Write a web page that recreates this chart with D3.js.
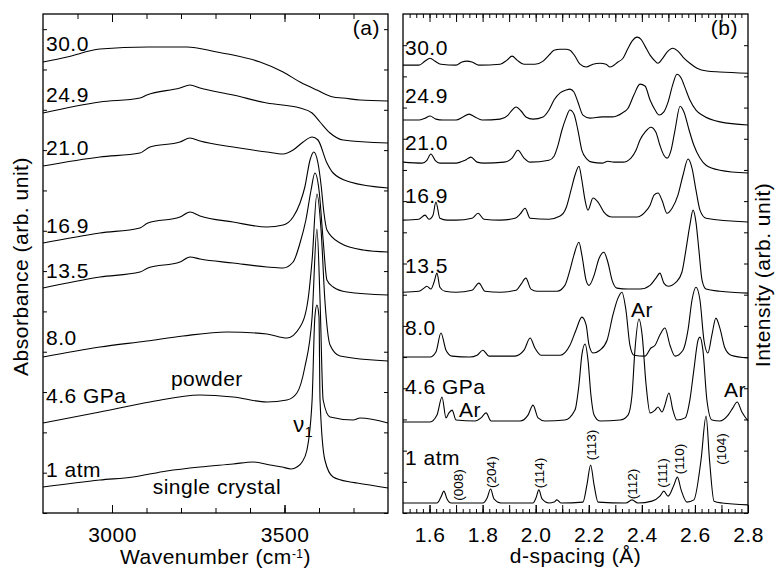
<!DOCTYPE html>
<html>
<head>
<meta charset="utf-8">
<script src="https://cdn.jsdelivr.net/npm/d3@7"></script>
<style>
  body { margin: 0; background: #fff; }
  svg { display: block; font-family: "Liberation Sans", Arial, Helvetica, sans-serif; }
</style>
</head>
<body>
<svg id="chart" width="776" height="577"></svg>
<script>
// ---- data ----
var pressureLabels = ['30.0', '24.9', '21.0', '16.9', '13.5', '8.0', '4.6 GPa', '1 atm'];

// (a) IR absorbance: [wavenumber cm-1, absorbance above the trace start]
var irOffsets = [112.75, 100, 86.75, 67.5, 56.25, 39, 22.5, 6.5];
var ir300 = [[2800,0],[2870,1.25],[2965,3.25],[3104,3.75],[3217,3.75],[3304,2.5],[3351,1.75],[3429,0],[3496,-2.5],[3545,-5],[3594,-7],[3641,-8.75],[3670,-9],[3719,-9.5],[3800,-9.75]];
var ir249 = [[2800,0],[2965,2.75],[3081,3.75],[3101,4.5],[3197,6.25],[3226,7],[3255,6.25],[3351,4.5],[3449,2.5],[3545,1.25],[3580,0],[3603,-2.25],[3632,-5],[3670,-6.75],[3800,-7.5]];
var ir210 = [[2800,0],[2965,2.25],[3081,3.25],[3110,4.75],[3197,6],[3226,7],[3255,6.25],[3351,4.75],[3449,3.5],[3496,3],[3525,4],[3554,6],[3580,7.25],[3597,6.5],[3623,0.75],[3641,-1.75],[3690,-4],[3800,-5.5]];
var ir169 = [[2800,0],[2965,2.5],[3081,3.75],[3104,5],[3197,6.5],[3226,7.75],[3255,6.75],[3351,5.25],[3449,4],[3496,4.5],[3525,6.5],[3545,10],[3559,14],[3574,20.75],[3585,22.75],[3597,20],[3606,14.5],[3614,7.75],[3623,3.25],[3661,0],[3728,-1.75],[3800,-2.25]];
var ir135 = [[2800,0],[2965,2.75],[3081,4],[3104,5],[3197,6.5],[3226,7.75],[3255,7.25],[3351,6.25],[3449,5.25],[3496,5],[3525,6.5],[3545,11.25],[3562,17],[3577,24.5],[3588,28.75],[3600,24.5],[3612,12],[3623,2],[3641,0.25],[3681,-1],[3800,-1.75]];
var ir80 = [[2800,0],[2965,2.5],[3101,4],[3206,5.25],[3333,6.25],[3449,5.75],[3507,4.75],[3545,7.5],[3568,14.25],[3580,24.25],[3594,40.75],[3606,31.75],[3617,14.25],[3632,3],[3661,0.25],[3800,-1]];
var ir46 = [[2800,0],[2965,2.75],[3110,5.25],[3255,7],[3351,6.5],[3449,5.25],[3507,5.75],[3536,7.5],[3559,14],[3580,26.5],[3594,48.5],[3603,30.75],[3612,5.75],[3632,1.5],[3699,0.75],[3719,1.25],[3800,0]];
var ir1atm = [[2800,0],[2965,1.75],[3061,2.5],[3159,4],[3255,5],[3351,5.75],[3409,6.25],[3458,5.5],[3493,5],[3519,4.5],[3536,5],[3551,6.25],[3565,9.25],[3580,21.75],[3588,42.5],[3594,45.5],[3600,42.5],[3603,21.75],[3617,6.75],[3641,2.5],[3690,1.25],[3710,1],[3800,-0.25]];
var irSpectra = [ir300, ir249, ir210, ir169, ir135, ir80, ir46, ir1atm];

// (b) X-ray diffraction: [d-spacing A, intensity above the trace start]
var xrdOffsets = [143.6, 126, 112.5, 93.9, 70.8, 50, 29.2, 3.2];
var xrd300 = [[1.500,0],[1.560,0],[1.583,1.3],[1.602,2.2],[1.620,1.3],[1.643,0.3],[1.700,0],[1.722,1],[1.741,1.3],[1.760,1],[1.786,0],[1.866,0.3],[1.892,1.6],[1.911,2.9],[1.930,1.6],[1.956,0.3],[1.997,0.3],[2.028,1.3],[2.050,3.2],[2.069,4.8],[2.092,5.1],[2.114,5.1],[2.129,4.8],[2.148,2.9],[2.167,0.3],[2.190,-0.6],[2.216,0.3],[2.242,0.6],[2.265,0.3],[2.280,-0.6],[2.310,1],[2.329,2.2],[2.348,5.4],[2.363,7.7],[2.382,9],[2.397,8.3],[2.412,6.1],[2.431,3.2],[2.450,1.3],[2.461,0.6],[2.476,1.9],[2.495,4.2],[2.517,5.4],[2.536,4.5],[2.555,2.6],[2.581,0.6],[2.608,-1],[2.645,-1.9],[2.694,-2.2],[2.800,-2.6]];
var xrd249 = [[1.500,0],[1.560,0],[1.583,0.6],[1.602,1.3],[1.624,0.3],[1.651,0],[1.700,0],[1.726,1],[1.749,1.9],[1.771,1],[1.798,0],[1.866,0.3],[1.896,1.6],[1.911,3.2],[1.926,4.2],[1.945,2.9],[1.963,1],[1.990,0.3],[2.028,1],[2.050,3.2],[2.069,6.4],[2.092,8.7],[2.114,9.6],[2.129,9.9],[2.144,9],[2.159,5.8],[2.178,1.6],[2.205,0.6],[2.250,1],[2.288,1],[2.325,2.2],[2.348,3.8],[2.370,8],[2.393,11.5],[2.412,10.9],[2.431,6.4],[2.450,3.2],[2.465,1.6],[2.483,2.6],[2.499,5.8],[2.517,11.5],[2.532,14.7],[2.548,13.5],[2.563,10.3],[2.581,6.4],[2.604,3.2],[2.627,1.6],[2.694,-0.6],[2.800,-1.6]];
var xrd210 = [[1.500,0],[1.572,-0.3],[1.590,0.6],[1.605,2.6],[1.621,0.6],[1.639,-0.3],[1.700,-0.3],[1.734,0.6],[1.756,1.6],[1.779,0],[1.805,-0.3],[1.881,0],[1.911,1.3],[1.933,3.8],[1.956,1.3],[1.979,0],[2.050,0.6],[2.069,1.9],[2.084,5.4],[2.099,10.3],[2.114,14.1],[2.129,16.7],[2.144,15.4],[2.159,10.3],[2.174,3.8],[2.193,1],[2.212,0],[2.250,-0.3],[2.272,0.3],[2.295,0],[2.329,0],[2.359,1.3],[2.378,3.8],[2.393,7.1],[2.412,9.6],[2.434,11.2],[2.453,9.6],[2.468,5.4],[2.483,2.2],[2.495,1.3],[2.510,3.8],[2.525,10.3],[2.544,17.9],[2.559,16],[2.578,10.3],[2.596,5.4],[2.619,1.3],[2.642,-1],[2.694,-2.6],[2.800,-3.5]];
var xrd169 = [[1.500,0],[1.560,0.3],[1.583,1.6],[1.598,0.3],[1.613,1.6],[1.624,5.8],[1.639,0.6],[1.666,0],[1.700,0],[1.760,0.6],[1.783,2.2],[1.805,0.3],[1.866,0],[1.922,0.6],[1.941,1.9],[1.960,3.8],[1.979,0.6],[2.050,0.3],[2.092,1.3],[2.114,3.8],[2.133,9.6],[2.148,14.4],[2.163,17.3],[2.174,12.8],[2.186,6.4],[2.197,3.2],[2.216,7.1],[2.235,5.8],[2.257,2.6],[2.288,1],[2.382,1],[2.412,2.6],[2.431,4.8],[2.446,8],[2.461,8.7],[2.476,6.4],[2.495,2.2],[2.514,3.8],[2.536,8],[2.555,14.4],[2.574,19.6],[2.589,16.7],[2.604,9.6],[2.619,3.2],[2.642,0.6],[2.800,-0.6]];
var xrd135 = [[1.500,0],[1.560,0.3],[1.579,1.3],[1.590,1.9],[1.605,1],[1.617,3.2],[1.628,6.1],[1.639,1.6],[1.658,0.3],[1.700,0],[1.760,0.6],[1.786,2.9],[1.809,0.3],[1.866,0],[1.926,0.6],[1.945,2.6],[1.963,4.5],[1.982,1],[2.005,0.3],[2.080,0.3],[2.110,2.2],[2.129,7.1],[2.144,11.9],[2.163,16],[2.174,11.9],[2.190,3.8],[2.201,2.2],[2.220,5.4],[2.239,10.9],[2.257,12.8],[2.272,9.6],[2.288,3.8],[2.306,1.3],[2.348,1],[2.393,1],[2.431,2.2],[2.453,4.5],[2.468,6.1],[2.483,2.9],[2.499,1.9],[2.529,3.2],[2.551,6.4],[2.566,13.5],[2.581,21.5],[2.593,26.3],[2.604,22.4],[2.615,13.5],[2.627,3.8],[2.642,1],[2.694,0.3],[2.800,-0.3]];
var xrd80 = [[1.500,0],[1.602,0],[1.624,1.6],[1.643,7.7],[1.662,2.2],[1.685,0.3],[1.752,0],[1.779,0.6],[1.801,2.2],[1.824,0.3],[1.922,0.3],[1.956,2.2],[1.979,6.1],[1.997,2.9],[2.020,0.6],[2.092,0.6],[2.129,3.8],[2.152,8.7],[2.174,12.8],[2.190,10.3],[2.201,3.8],[2.216,1.3],[2.242,2.2],[2.269,5.4],[2.291,13.5],[2.310,18.9],[2.325,20.8],[2.340,15.1],[2.355,3.8],[2.370,0.6],[2.412,0.3],[2.434,2.9],[2.450,3.8],[2.468,7.1],[2.487,9.3],[2.506,3.8],[2.525,0.3],[2.555,2.2],[2.574,8.7],[2.589,18.3],[2.604,22.4],[2.619,18.3],[2.634,5.4],[2.649,1.3],[2.664,7.1],[2.679,12.5],[2.694,9.3],[2.713,2.9],[2.736,0.6],[2.800,-0.3]];
var xrd46 = [[1.500,0],[1.602,0],[1.628,2.2],[1.647,8],[1.662,1.3],[1.673,2.9],[1.685,3.8],[1.700,0.6],[1.771,0.3],[1.794,1.3],[1.813,2.9],[1.832,0.3],[1.941,0.3],[1.971,2.2],[1.990,5.4],[2.009,1.3],[2.035,0.3],[2.110,0.6],[2.148,3.8],[2.163,11.9],[2.174,21.5],[2.186,25],[2.197,19.9],[2.208,8.7],[2.220,2.2],[2.242,0.3],[2.318,0.6],[2.348,2.2],[2.363,8.7],[2.374,23.1],[2.389,33],[2.401,27.9],[2.416,11.9],[2.431,2.9],[2.450,3.8],[2.461,4.8],[2.476,3.2],[2.487,5.4],[2.502,9.3],[2.517,3.8],[2.532,0.6],[2.563,1.3],[2.581,7.1],[2.596,16.7],[2.612,26.3],[2.619,27.2],[2.630,23.1],[2.645,7.1],[2.664,0.6],[2.694,0.3],[2.725,2.2],[2.743,4.5],[2.759,6.4],[2.777,3.2],[2.800,0.3]];
var xrd1atm = [[1.500,0],[1.628,0],[1.643,1.9],[1.654,3.8],[1.666,1.3],[1.681,0],[1.801,0],[1.817,1.6],[1.830,4.5],[1.843,1.3],[1.869,0],[1.990,0],[2.001,1.6],[2.012,4.2],[2.024,1.3],[2.050,0],[2.069,0.3],[2.080,1],[2.095,0],[2.178,0.3],[2.193,5.8],[2.207,12.2],[2.220,5.8],[2.235,0.3],[2.340,0],[2.363,1],[2.385,0],[2.438,0.6],[2.468,2.2],[2.483,3.8],[2.499,2.2],[2.521,5.8],[2.534,8.3],[2.548,4.2],[2.570,0.3],[2.596,1],[2.623,13.8],[2.642,27.9],[2.655,13.8],[2.672,0.6],[2.702,0],[2.800,-0.6]];
var xrdSpectra = [xrd300, xrd249, xrd210, xrd169, xrd135, xrd80, xrd46, xrd1atm];

// reflections of the 1 atm pattern and argon lines
var hklLabels = ['(008)', '(204)', '(114)', '(113)', '(112)', '(111)', '(110)', '(104)'];
var hklD = [1.707, 1.832, 2.012, 2.208, 2.363, 2.476, 2.540, 2.698];
var hklY = [9, 13.1, 12.8, 21.8, 9.3, 12.8, 17.3, 20.5];
var argonD = [2.401, 1.752, 2.751];
var argonY = [62.8, 30.8, 37.2];

// ---- layout ----
var svg = d3.select('#chart');
var plotTop = 14, plotBottom = 513;
var fontFamily = '"Liberation Sans", Arial, Helvetica, sans-serif';
var labelLiftA = [11, 11, 11, 10, 10, 12, 20, 10];
var labelLiftB = [10, 17, 12, 17, 19, 22, 28, 38];

var xA = d3.scaleLinear().domain([2800, 3800]).range([43, 388]);
var yA = d3.scaleLinear().domain([0, 124.75]).range([plotBottom, plotTop]);
var xB = d3.scaleLinear().domain([1.5, 2.8]).range([403, 748]);
var yB = d3.scaleLinear().domain([0, 160]).range([plotBottom, plotTop]);

function styleAxis(sel){
    sel.select('.domain').remove();
    sel.attr('font-family', fontFamily).attr('font-size', 21);
    sel.selectAll('line').attr('stroke', '#000').attr('stroke-width', 1);
    sel.selectAll('text').attr('fill', '#000').attr('letter-spacing', 0.5);
}

// ticks pointing inwards on all four sides, labels only at the bottom
function drawFrame(x, y, o){
    var g = svg.append('g');
    var x0 = x.range()[0], x1 = x.range()[1];
    var yTicks = d3.range(0, y.domain()[1], o.yStep);

    g.append('g').attr('transform', 'translate(0,' + plotBottom + ')')
        .call(d3.axisBottom(x).tickValues(o.minor).tickSize(-o.minorLen).tickFormat(''))
        .call(styleAxis);
    g.append('g').attr('transform', 'translate(0,' + plotBottom + ')')
        .call(d3.axisBottom(x).tickValues(o.major).tickSize(-8).tickFormat(''))
        .call(styleAxis);
    g.append('g').attr('transform', 'translate(0,' + plotBottom + ')')
        .call(d3.axisBottom(x).tickValues(o.labelled).tickSize(-8).tickPadding(14).tickFormat(o.fmt))
        .call(styleAxis);

    g.append('g').attr('transform', 'translate(0,' + plotTop + ')')
        .call(d3.axisTop(x).tickValues(o.minor).tickSize(-o.minorLen).tickFormat(''))
        .call(styleAxis);
    g.append('g').attr('transform', 'translate(0,' + plotTop + ')')
        .call(d3.axisTop(x).tickValues(o.major).tickSize(-8).tickFormat(''))
        .call(styleAxis);

    g.append('g').attr('transform', 'translate(' + x0 + ',0)')
        .call(d3.axisLeft(y).tickValues(yTicks).tickSize(-4).tickFormat(''))
        .call(styleAxis);
    g.append('g').attr('transform', 'translate(' + x1 + ',0)')
        .call(d3.axisRight(y).tickValues(yTicks).tickSize(-4).tickFormat(''))
        .call(styleAxis);

    g.append('rect')
        .attr('x', x0).attr('y', plotTop)
        .attr('width', x1 - x0).attr('height', plotBottom - plotTop)
        .attr('fill', 'none').attr('stroke', '#000').attr('stroke-width', 1.3);
}

function drawSpectra(x, y, spectra, offsets){
    spectra.forEach(function(points, i){
        var line = d3.line()
            .x(function(d){ return x(d[0]); })
            .y(function(d){ return y(offsets[i] + d[1]); })
            .curve(d3.curveMonotoneX);
        svg.append('path')
            .datum(points)
            .attr('d', line)
            .attr('fill', 'none')
            .attr('stroke', '#000')
            .attr('stroke-width', 1.1)
            .attr('stroke-linejoin', 'round');
    });
}

function addText(x, y, str, size, anchor){
    return svg.append('text')
        .attr('x', x).attr('y', y)
        .attr('font-family', fontFamily)
        .attr('font-size', size)
        .attr('letter-spacing', 0.5)
        .attr('text-anchor', anchor || 'start')
        .attr('fill', '#000')
        .text(str);
}

// ---- panel (a) ----
drawFrame(xA, yA, {
    minor: d3.range(2900, 3800, 100),
    major: [3000, 3500],
    labelled: [3000, 3500],
    fmt: d3.format('d'),
    minorLen: 5,
    yStep: 10.08
});
drawSpectra(xA, yA, irSpectra, irOffsets);
pressureLabels.forEach(function(p, i){
    addText(xA.range()[0] + 3, yA(irOffsets[i]) - labelLiftA[i], p, 21);
});
addText(xA(3275), yA(31.75), 'powder', 21, 'middle');
addText(xA(3304), yA(4.75), 'single crystal', 21, 'middle');
var nu = addText(xA(3525), yA(20.25), '\u03bd', 22);
nu.append('tspan').attr('font-size', 14).attr('dy', 5).text('1');
addText(380, 35, '(a)', 21, 'end');

var xTitleA = addText((xA.range()[0] + xA.range()[1]) / 2, 564, 'Wavenumber (cm', 21, 'middle');
xTitleA.append('tspan').attr('font-size', 12).attr('dy', -6).text('-1');
xTitleA.append('tspan').attr('dy', 6).text(')');

svg.append('text')
    .attr('transform', 'translate(28,' + ((plotTop + plotBottom) / 2 + 3) + ') rotate(-90)')
    .attr('font-family', fontFamily).attr('font-size', 21).attr('letter-spacing', 0.5)
    .attr('text-anchor', 'middle')
    .text('Absorbance (arb. unit)');

// ---- panel (b) ----
drawFrame(xB, yB, {
    minor: d3.range(1.525, 2.8, 0.025),
    major: d3.range(1.6, 2.75, 0.1),
    labelled: [1.6, 1.8, 2.0, 2.2, 2.4, 2.6, 2.8],
    fmt: d3.format('.1f'),
    minorLen: 4,
    yStep: 10
});
drawSpectra(xB, yB, xrdSpectra, xrdOffsets);
pressureLabels.forEach(function(p, i){
    addText(xB.range()[0] + 2, yB(xrdOffsets[i]) - labelLiftB[i], p, 21);
});
argonD.forEach(function(d, i){
    addText(xB(d), yB(argonY[i]), 'Ar', 21, 'middle');
});
hklLabels.forEach(function(h, i){
    svg.append('text')
        .attr('transform', 'translate(' + (xB(hklD[i]) + 5) + ',' + yB(hklY[i]) + ') rotate(-90)')
        .attr('font-family', fontFamily).attr('font-size', 13.5)
        .attr('text-anchor', 'middle')
        .text(h);
});
addText(738, 35, '(b)', 21, 'end');
addText((xB.range()[0] + xB.range()[1]) / 2, 563, 'd-spacing (\u00c5)', 21, 'middle');

svg.append('text')
    .attr('transform', 'translate(770,275) rotate(-90)')
    .attr('font-family', fontFamily).attr('font-size', 21).attr('letter-spacing', 0.5)
    .attr('text-anchor', 'middle')
    .text('Intensity (arb. unit)');
</script>
</body>
</html>
